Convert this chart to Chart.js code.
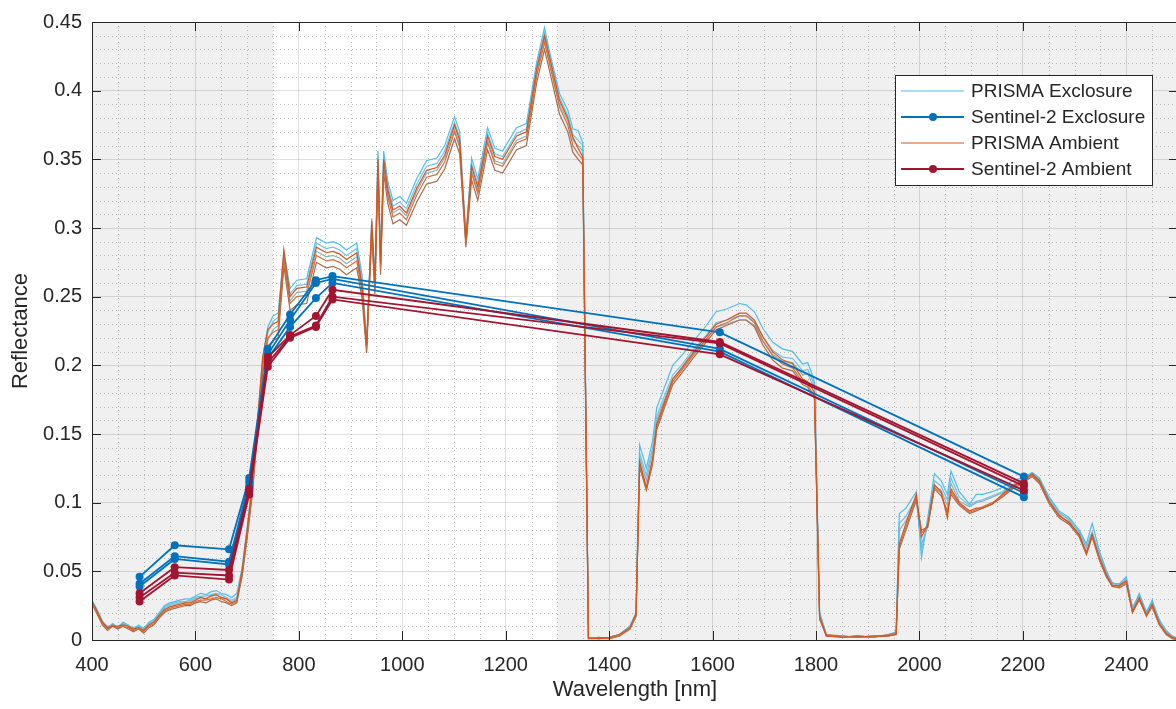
<!DOCTYPE html>
<html>
<head>
<meta charset="utf-8">
<title>PRISMA and Sentinel-2 reflectance</title>
<script src="https://cdn.jsdelivr.net/npm/chart.js@4.4.0/dist/chart.umd.min.js"></script>
<style>
  html, body { margin: 0; padding: 0; background: #fff; overflow: hidden; }
  canvas { display: block; }
</style>
</head>
<body>
<canvas id="chart" width="1182" height="709"></canvas>
<script>
// PRISMA wavelength grid (nm)
const wavelength = [
  400,410,420,430,440,450,460,470,480,490,
  500,510,520,530,540,550,560,570,580,590,
  600,610,620,630,640,650,660,670,680,690,
  700,710,720,730,740,750,760,771,783,796,
  815,834,853,866,879,892,912,922,931,941,
  947,953,958,964,972,982,995,1008,1028,1047,
  1067,1082,1101,1111,1123,1134,1146,1165,1179,1194,
  1221,1240,1260,1275,1285,1304,1320,1330,1340,1349,
  1360,1380,1400,1420,1440,1452,1459,1472,1484,1492,
  1504,1523,1542,1562,1588,1607,1627,1652,1665,1681,
  1697,1716,1735,1755,1774,1784,1791,1797,1807,1820,
  1850,1880,1910,1940,1955,1961,1974,1994,2004,2016,
  2029,2042,2054,2061,2077,2097,2110,2122,2141,2160,
  2180,2199,2218,2232,2251,2270,2290,2309,2323,2334,
  2348,2361,2373,2387,2400,2412,2425,2439,2450,2464,
  2477,2489,2500
];

// PRISMA exclosure spectra
const prismaExcl1 = [
  0.029,0.022,0.014,0.009,0.012,0.009,0.013,0.011,0.008,0.011,
  0.008,0.013,0.015,0.020,0.025,0.027,0.028,0.029,0.030,0.030,
  0.032,0.034,0.033,0.035,0.036,0.034,0.033,0.031,0.034,0.052,
  0.082,0.115,0.158,0.205,0.228,0.236,0.238,0.283,0.256,0.262,
  0.263,0.293,0.289,0.290,0.288,0.284,0.289,0.266,0.216,0.307,
  0.264,0.356,0.279,0.356,0.334,0.320,0.323,0.318,0.336,0.349,
  0.351,0.360,0.381,0.370,0.293,0.351,0.336,0.373,0.358,0.356,
  0.373,0.376,0.421,0.446,0.428,0.398,0.386,0.372,0.371,0.362,
  0.002,0.001,0.002,0.004,0.010,0.020,0.142,0.125,0.145,0.169,
  0.181,0.200,0.208,0.217,0.229,0.239,0.241,0.245,0.244,0.239,
  0.227,0.217,0.212,0.210,0.201,0.202,0.195,0.188,0.020,0.004,
  0.002,0.003,0.002,0.004,0.006,0.092,0.096,0.108,0.060,0.089,
  0.121,0.116,0.106,0.123,0.108,0.099,0.106,0.106,0.108,0.111,
  0.116,0.118,0.122,0.118,0.104,0.094,0.089,0.080,0.070,0.085,
  0.065,0.051,0.041,0.041,0.046,0.022,0.034,0.020,0.029,0.014,
  0.007,0.002,0.001
];
const prismaExcl2 = [
  0.027,0.020,0.013,0.010,0.011,0.010,0.012,0.010,0.009,0.010,
  0.009,0.012,0.014,0.019,0.024,0.026,0.027,0.028,0.028,0.029,
  0.031,0.032,0.032,0.033,0.034,0.033,0.031,0.029,0.031,0.048,
  0.078,0.112,0.155,0.200,0.224,0.232,0.235,0.279,0.252,0.258,
  0.259,0.289,0.285,0.286,0.284,0.280,0.285,0.262,0.214,0.303,
  0.261,0.352,0.276,0.352,0.330,0.316,0.319,0.314,0.332,0.345,
  0.347,0.356,0.377,0.366,0.291,0.347,0.332,0.369,0.354,0.352,
  0.369,0.372,0.418,0.442,0.425,0.395,0.382,0.368,0.364,0.360,
  0.001,0.002,0.001,0.003,0.009,0.018,0.136,0.120,0.140,0.163,
  0.175,0.193,0.201,0.211,0.222,0.231,0.233,0.236,0.236,0.232,
  0.221,0.211,0.206,0.205,0.196,0.197,0.191,0.186,0.018,0.003,
  0.003,0.002,0.003,0.003,0.005,0.085,0.090,0.104,0.066,0.085,
  0.116,0.112,0.102,0.118,0.104,0.098,0.101,0.102,0.105,0.108,
  0.113,0.117,0.120,0.116,0.102,0.092,0.088,0.078,0.068,0.079,
  0.062,0.050,0.040,0.040,0.044,0.024,0.032,0.021,0.027,0.015,
  0.006,0.002,0.001
];
const prismaExcl3 = [
  0.028,0.021,0.012,0.008,0.011,0.008,0.012,0.010,0.007,0.010,
  0.007,0.012,0.014,0.018,0.023,0.025,0.026,0.027,0.027,0.028,
  0.030,0.031,0.030,0.032,0.033,0.031,0.030,0.028,0.030,0.046,
  0.075,0.108,0.150,0.195,0.218,0.226,0.229,0.274,0.247,0.253,
  0.254,0.283,0.279,0.280,0.278,0.274,0.279,0.257,0.212,0.298,
  0.257,0.347,0.272,0.347,0.325,0.311,0.314,0.309,0.327,0.340,
  0.342,0.351,0.372,0.361,0.288,0.342,0.327,0.364,0.349,0.347,
  0.364,0.367,0.413,0.438,0.421,0.390,0.378,0.364,0.360,0.356,
  0.002,0.001,0.002,0.004,0.010,0.019,0.133,0.116,0.137,0.160,
  0.172,0.190,0.198,0.208,0.219,0.228,0.230,0.233,0.233,0.229,
  0.218,0.208,0.203,0.202,0.193,0.194,0.188,0.184,0.019,0.004,
  0.002,0.003,0.002,0.004,0.005,0.080,0.087,0.101,0.070,0.082,
  0.112,0.109,0.098,0.114,0.101,0.097,0.100,0.101,0.104,0.107,
  0.112,0.116,0.121,0.117,0.103,0.093,0.087,0.079,0.067,0.078,
  0.063,0.049,0.042,0.039,0.045,0.023,0.033,0.019,0.028,0.013,
  0.007,0.003,0.001
];

// PRISMA ambient spectra
const prismaAmb1 = [
  0.028,0.021,0.013,0.009,0.010,0.010,0.011,0.010,0.008,0.009,
  0.007,0.011,0.013,0.018,0.022,0.024,0.025,0.026,0.027,0.027,
  0.029,0.031,0.030,0.032,0.033,0.031,0.030,0.027,0.029,0.050,
  0.080,0.114,0.160,0.206,0.226,0.230,0.232,0.284,0.250,0.256,
  0.257,0.286,0.282,0.283,0.281,0.277,0.282,0.259,0.215,0.305,
  0.259,0.350,0.274,0.350,0.328,0.313,0.316,0.311,0.329,0.342,
  0.344,0.353,0.375,0.364,0.292,0.345,0.330,0.367,0.352,0.350,
  0.367,0.370,0.416,0.440,0.424,0.393,0.380,0.366,0.358,0.352,
  0.001,0.001,0.002,0.004,0.009,0.019,0.130,0.111,0.132,0.157,
  0.170,0.190,0.199,0.209,0.221,0.230,0.233,0.238,0.238,0.233,
  0.221,0.210,0.204,0.201,0.190,0.188,0.184,0.180,0.017,0.003,
  0.002,0.002,0.003,0.003,0.004,0.070,0.085,0.106,0.075,0.084,
  0.113,0.108,0.089,0.110,0.100,0.094,0.096,0.096,0.099,0.106,
  0.112,0.116,0.121,0.116,0.101,0.091,0.085,0.077,0.063,0.077,
  0.060,0.048,0.039,0.040,0.043,0.020,0.031,0.018,0.026,0.012,
  0.005,0.002,0.001
];
const prismaAmb2 = [
  0.027,0.019,0.012,0.008,0.011,0.009,0.010,0.009,0.007,0.008,
  0.006,0.010,0.012,0.017,0.021,0.023,0.024,0.025,0.026,0.026,
  0.028,0.029,0.029,0.030,0.031,0.030,0.028,0.026,0.028,0.048,
  0.077,0.110,0.156,0.200,0.220,0.224,0.226,0.278,0.245,0.250,
  0.251,0.280,0.276,0.277,0.275,0.271,0.276,0.254,0.212,0.300,
  0.255,0.345,0.270,0.345,0.323,0.308,0.311,0.306,0.324,0.337,
  0.339,0.348,0.370,0.359,0.289,0.340,0.325,0.362,0.347,0.345,
  0.362,0.365,0.411,0.435,0.419,0.388,0.375,0.360,0.354,0.350,
  0.002,0.001,0.001,0.003,0.008,0.018,0.128,0.110,0.130,0.155,
  0.168,0.188,0.197,0.207,0.219,0.228,0.231,0.236,0.236,0.231,
  0.218,0.207,0.201,0.198,0.188,0.186,0.181,0.178,0.016,0.004,
  0.003,0.002,0.002,0.004,0.005,0.068,0.082,0.104,0.078,0.083,
  0.111,0.107,0.092,0.108,0.099,0.093,0.095,0.097,0.100,0.105,
  0.111,0.115,0.120,0.115,0.100,0.090,0.086,0.076,0.064,0.076,
  0.059,0.047,0.040,0.039,0.042,0.021,0.030,0.017,0.025,0.011,
  0.005,0.001,0.001
];
const prismaAmb3 = [
  0.026,0.019,0.011,0.007,0.010,0.008,0.010,0.008,0.006,0.008,
  0.005,0.009,0.011,0.016,0.020,0.022,0.023,0.024,0.025,0.025,
  0.027,0.028,0.027,0.029,0.030,0.028,0.027,0.025,0.027,0.046,
  0.074,0.106,0.150,0.194,0.214,0.218,0.220,0.272,0.240,0.244,
  0.245,0.275,0.271,0.272,0.270,0.266,0.271,0.249,0.209,0.296,
  0.252,0.340,0.266,0.340,0.318,0.303,0.306,0.302,0.319,0.332,
  0.334,0.343,0.365,0.354,0.286,0.335,0.320,0.357,0.342,0.340,
  0.357,0.360,0.406,0.430,0.414,0.383,0.370,0.355,0.350,0.346,
  0.001,0.002,0.001,0.003,0.008,0.017,0.126,0.109,0.128,0.153,
  0.166,0.186,0.195,0.205,0.217,0.226,0.229,0.233,0.233,0.228,
  0.215,0.204,0.198,0.196,0.186,0.184,0.179,0.176,0.015,0.003,
  0.002,0.003,0.002,0.003,0.004,0.066,0.080,0.102,0.080,0.082,
  0.110,0.105,0.094,0.106,0.098,0.092,0.094,0.096,0.099,0.104,
  0.110,0.114,0.119,0.114,0.099,0.089,0.084,0.075,0.062,0.075,
  0.058,0.046,0.039,0.038,0.041,0.020,0.029,0.018,0.024,0.011,
  0.004,0.001,0.000
];

// Sentinel-2 band centres (nm) and reflectances
const s2Bands = [492, 560, 665, 704, 740, 783, 833, 865, 1614, 2202];
const s2Excl1 = [0.046, 0.069, 0.066, 0.118, 0.212, 0.237, 0.262, 0.265, 0.224, 0.119];
const s2Excl2 = [0.041, 0.061, 0.057, 0.115, 0.208, 0.233, 0.260, 0.263, 0.212, 0.107];
const s2Excl3 = [0.039, 0.059, 0.055, 0.112, 0.205, 0.228, 0.249, 0.260, 0.210, 0.104];
const s2Amb1 = [0.034, 0.053, 0.051, 0.110, 0.206, 0.222, 0.236, 0.255, 0.217, 0.114];
const s2Amb2 = [0.031, 0.049, 0.047, 0.108, 0.202, 0.221, 0.229, 0.250, 0.216, 0.112];
const s2Amb3 = [0.028, 0.047, 0.044, 0.106, 0.199, 0.220, 0.228, 0.248, 0.208, 0.109];

const legendLabels = ["PRISMA Exclosure", "Sentinel-2 Exclosure", "PRISMA Ambient", "Sentinel-2 Ambient"];
const shadedRanges = [[400, 750], [1300, 2500]];

const axisColor = "#262626";
const colors = {
  prismaExcl: ["#4dbeee", "#6cc3e6", "#8fb0bf"],
  prismaAmb: ["#d95319", "#d0703f", "#a86a4a"],
  s2Excl: "#0072bd",
  s2Amb: "#a2142f",
};

Chart.defaults.font.family = "'Liberation Sans', Arial, sans-serif";
Chart.defaults.color = axisColor;

const toPoints = (xs, ys) => xs.map((v, i) => ({ x: v, y: ys[i] }));

const datasets = [];
[prismaExcl1, prismaExcl2, prismaExcl3].forEach((vals, i) => {
  datasets.push({
    data: toPoints(wavelength, vals),
    borderColor: colors.prismaExcl[i],
    borderWidth: 1.2,
    pointRadius: 0,
    order: 3,
  });
});
[prismaAmb1, prismaAmb2, prismaAmb3].forEach((vals, i) => {
  datasets.push({
    data: toPoints(wavelength, vals),
    borderColor: colors.prismaAmb[i],
    borderWidth: 1.2,
    pointRadius: 0,
    order: 2,
  });
});
[s2Excl1, s2Excl2, s2Excl3].forEach((vals) => {
  datasets.push({
    data: toPoints(s2Bands, vals),
    borderColor: colors.s2Excl,
    backgroundColor: colors.s2Excl,
    borderWidth: 1.8,
    pointRadius: 4,
    pointBorderWidth: 0,
    order: 1,
  });
});
[s2Amb1, s2Amb2, s2Amb3].forEach((vals) => {
  datasets.push({
    data: toPoints(s2Bands, vals),
    borderColor: colors.s2Amb,
    backgroundColor: colors.s2Amb,
    borderWidth: 1.8,
    pointRadius: 4,
    pointBorderWidth: 0,
    order: 0,
  });
});

// shaded bands, dotted minor grid, box with inward ticks, legend
const plotFrame = {
  id: "plotFrame",
  beforeDraw(chart) {
    const { ctx, chartArea: a, scales: { x, y } } = chart;
    ctx.save();
    ctx.fillStyle = "#f0f0f0";
    shadedRanges.forEach(([lo, hi]) => {
      const x0 = x.getPixelForValue(lo);
      const x1 = x.getPixelForValue(hi);
      ctx.fillRect(x0, a.top, x1 - x0, a.bottom - a.top);
    });
    ctx.strokeStyle = "rgba(38,38,38,0.3)";
    ctx.lineWidth = 1;
    ctx.setLineDash([1, 3]);
    for (let w = 450; w < 2500; w += 50) {
      if (w % 200 === 0) continue;
      const px = Math.round(x.getPixelForValue(w)) + 0.5;
      ctx.beginPath();
      ctx.moveTo(px, a.top);
      ctx.lineTo(px, a.bottom);
      ctx.stroke();
    }
    for (let k = 1; k < 45; k++) {
      if (k % 5 === 0) continue;
      const py = Math.round(y.getPixelForValue(k / 100)) + 0.5;
      ctx.beginPath();
      ctx.moveTo(a.left, py);
      ctx.lineTo(a.right, py);
      ctx.stroke();
    }
    ctx.restore();
  },
  afterDraw(chart) {
    const { ctx, chartArea: a, scales: { x, y } } = chart;
    ctx.save();
    ctx.strokeStyle = axisColor;
    ctx.lineWidth = 1;
    ctx.strokeRect(a.left + 0.5, a.top + 0.5, a.right - a.left, a.bottom - a.top);
    const tl = 9;
    ctx.beginPath();
    x.ticks.forEach((t) => {
      const px = Math.round(x.getPixelForValue(t.value)) + 0.5;
      ctx.moveTo(px, a.bottom);
      ctx.lineTo(px, a.bottom - tl);
      ctx.moveTo(px, a.top);
      ctx.lineTo(px, a.top + tl);
    });
    y.ticks.forEach((t) => {
      const py = Math.round(y.getPixelForValue(t.value)) + 0.5;
      ctx.moveTo(a.left, py);
      ctx.lineTo(a.left + tl, py);
      ctx.moveTo(a.right, py);
      ctx.lineTo(a.right - tl, py);
    });
    ctx.stroke();

    // legend
    const lx = a.right - 283, ly = a.top + 53, lw = 257, lh = 110;
    ctx.fillStyle = "#fff";
    ctx.fillRect(lx, ly, lw, lh);
    ctx.strokeStyle = axisColor;
    ctx.strokeRect(lx + 0.5, ly + 0.5, lw, lh);
    const items = [
      { color: colors.prismaExcl[0], width: 1.2, marker: false },
      { color: colors.s2Excl, width: 1.8, marker: true },
      { color: colors.prismaAmb[0], width: 1.2, marker: false },
      { color: colors.s2Amb, width: 1.8, marker: true },
    ];
    ctx.font = "19px 'Liberation Sans', Arial, sans-serif";
    ctx.textBaseline = "middle";
    items.forEach((it, i) => {
      const cy = ly + 16 + i * 26;
      ctx.strokeStyle = it.color;
      ctx.lineWidth = it.width;
      ctx.beginPath();
      ctx.moveTo(lx + 6, cy);
      ctx.lineTo(lx + 69, cy);
      ctx.stroke();
      if (it.marker) {
        ctx.fillStyle = it.color;
        ctx.beginPath();
        ctx.arc(lx + 38, cy, 4, 0, Math.PI * 2);
        ctx.fill();
      }
      ctx.fillStyle = axisColor;
      ctx.fillText(legendLabels[i], lx + 76, cy + 1);
    });
    ctx.restore();
  },
};

new Chart(document.getElementById("chart"), {
  type: "line",
  data: { datasets },
  options: {
    responsive: false,
    animation: false,
    devicePixelRatio: 1,
    layout: { padding: { top: 18, right: 3, left: 0, bottom: 0 } },
    plugins: { legend: { display: false }, tooltip: { enabled: false } },
    elements: { line: { tension: 0 } },
    scales: {
      x: {
        type: "linear",
        min: 400,
        max: 2500,
        afterFit: (scale) => { scale.height = 69; },
        grid: { color: "rgba(38,38,38,0.15)", drawTicks: false },
        border: { display: false },
        ticks: {
          stepSize: 200,
          includeBounds: false,
          padding: 13,
          color: axisColor,
          font: { size: 20 },
          callback: (v) => String(v),
        },
        title: { display: true, text: "Wavelength [nm]", color: axisColor, font: { size: 22 }, padding: { top: 0, bottom: 6 } },
      },
      y: {
        type: "linear",
        min: 0,
        max: 0.45,
        afterFit: (scale) => { scale.width = 92; },
        grid: { color: "rgba(38,38,38,0.15)", drawTicks: false },
        border: { display: false },
        ticks: {
          stepSize: 0.05,
          padding: 10,
          color: axisColor,
          font: { size: 20 },
          callback: (v) => String(+v.toFixed(2)),
        },
        title: { display: true, text: "Reflectance", color: axisColor, font: { size: 22 }, padding: { top: 8, bottom: 0 } },
      },
    },
  },
  plugins: [plotFrame],
});
</script>
</body>
</html>
